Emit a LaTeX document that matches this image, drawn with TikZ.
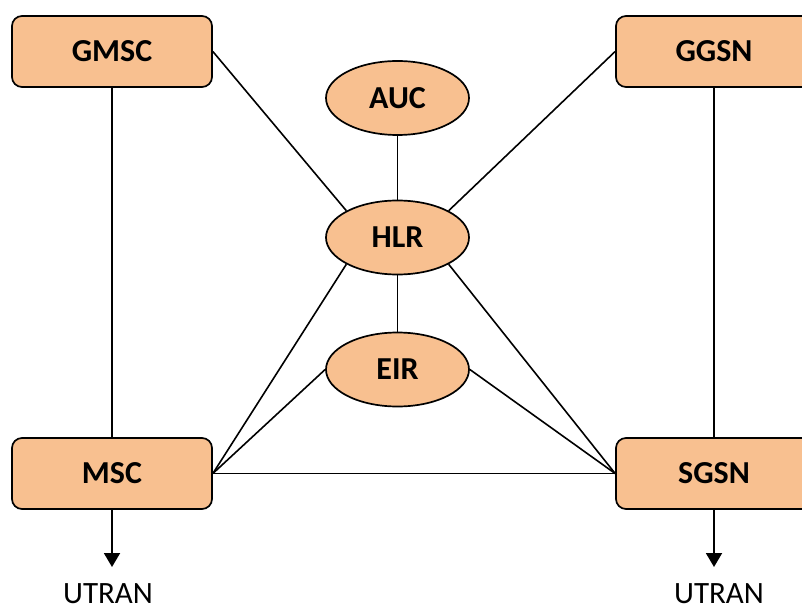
\documentclass[tikz,border=0pt]{standalone}
\usepackage{fontspec}
\setmainfont{Carlito}
\usetikzlibrary{arrows.meta,shapes.geometric}
\definecolor{nodefill}{HTML}{F8C090}
\tikzset{
  netbox/.style={draw=black, line width=1.7pt, fill=nodefill, rounded corners=10pt,
    minimum height=71pt, inner sep=0pt, font=\bfseries\fontsize{32}{38}\selectfont},
  netdb/.style={ellipse, draw=black, line width=1.7pt, fill=nodefill,
    minimum width=143pt, minimum height=74pt, inner sep=0pt,
    font=\bfseries\fontsize{32}{38}\selectfont},
  link/.style={line width=1.6pt},
  uplink/.style={line width=1.9pt, -{Triangle[length=14pt,width=16pt]}},
  endlabel/.style={font=\fontsize{31}{37}\selectfont, anchor=base, inner sep=0pt}
}
\begin{document}
\begin{tikzpicture}[x=1pt,y=-1pt]
  \useasboundingbox (0,0) rectangle (802,612);
  \clip (0,0) rectangle (802,612);

  % switching and gateway nodes
  \node[netbox, minimum width=200pt] (gmsc) at (112,51.5) {GMSC};
  \node[netbox, minimum width=196pt] (ggsn) at (714,51.5) {GGSN};
  \node[netbox, minimum width=200pt] (msc)  at (112,473.5) {MSC};
  \node[netbox, minimum width=196pt] (sgsn) at (714,473.5) {SGSN};

  % databases
  \node[netdb] (auc) at (397.5,98) {AUC};
  \node[netdb] (hlr) at (397.5,237.5) {HLR};
  \node[netdb] (eir) at (397.5,369.5) {EIR};

  % interfaces
  \draw[link] (gmsc.south) -- (msc.north);
  \draw[link] (ggsn.south) -- (sgsn.north);
  \draw[link] (auc.south) -- (hlr.north);
  \draw[link] (hlr.south) -- (eir.north);
  \draw[link] (gmsc.east) -- (hlr.north west);
  \draw[link] (ggsn.west) -- (hlr.north east);
  \draw[link] (hlr.south west) -- (msc.east);
  \draw[link] (hlr.south east) -- (sgsn.west);
  \draw[link] (eir.west) -- (msc.east);
  \draw[link] (eir.east) -- (sgsn.west);
  \draw[link] (msc.east) -- (sgsn.west);

  % radio access network
  \coordinate (ranl) at (112,567);
  \coordinate (ranr) at (714,567);
  \draw[uplink] (msc.south) -- (ranl);
  \draw[uplink] (sgsn.south) -- (ranr);
  \node[endlabel] (utranl) at (108,603) {UTRAN};
  \node[endlabel] (utranr) at (719,603) {UTRAN};
\end{tikzpicture}
\end{document}
